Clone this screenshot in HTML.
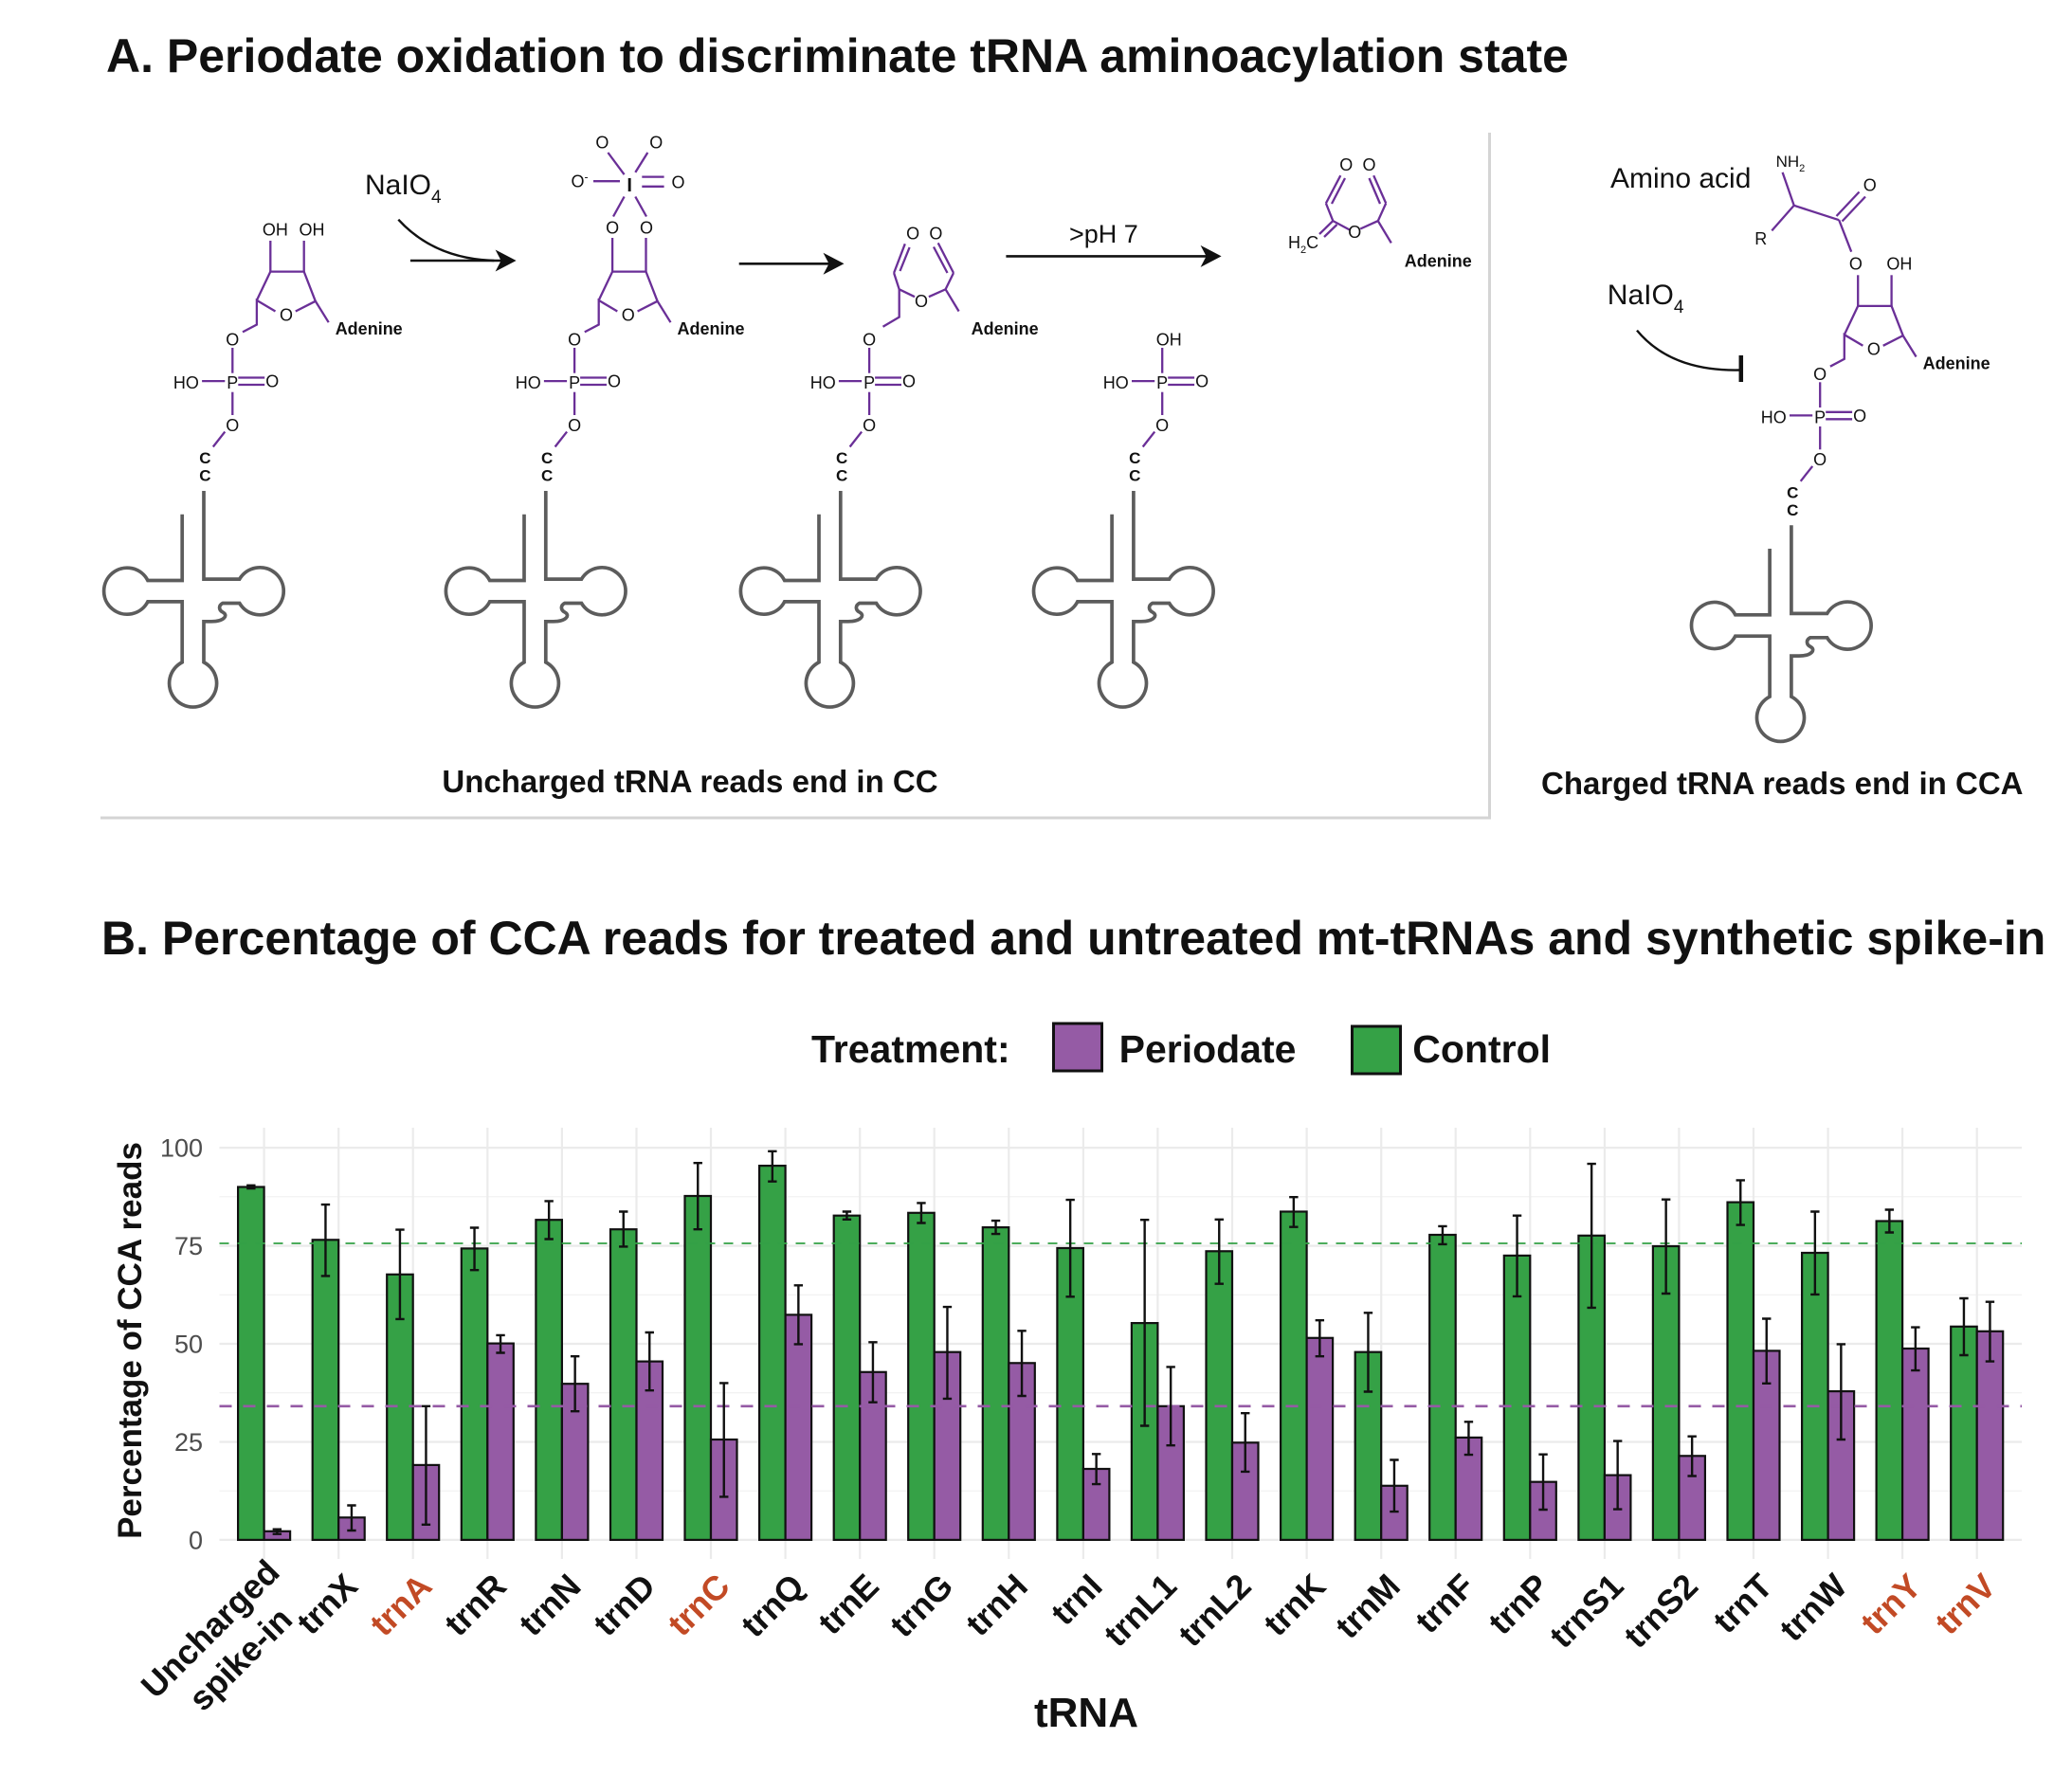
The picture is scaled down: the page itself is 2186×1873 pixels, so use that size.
<!DOCTYPE html>
<html><head><meta charset="utf-8"><style>
html,body{margin:0;padding:0;background:#fff;}
svg{display:block;}
text{font-family:"Liberation Sans",Arial,sans-serif;}
.b{stroke:#6a2f97;stroke-width:2.3;fill:none;}
.a{font-size:18px;fill:#111;text-anchor:middle;}
.ad{font-size:18px;font-weight:bold;fill:#111;}
.cc{font-size:17px;font-weight:bold;fill:#111;text-anchor:middle;}
.tr{stroke:#5c5c5c;stroke-width:3.7;fill:none;}
.gr{fill:#35a146;stroke:#111;stroke-width:2.2;}
.pu{fill:#955ba5;stroke:#111;stroke-width:2.2;}
.eb{stroke:#111;stroke-width:2.4;fill:none;}
.xl{font-size:36px;font-weight:bold;fill:#111;text-anchor:end;}
.xr{font-size:36px;font-weight:bold;fill:#c24a25;text-anchor:end;}
.yt{font-size:27px;fill:#4d4d4d;text-anchor:end;}
.gM{stroke:#ebebeb;stroke-width:2.2;}
.gm{stroke:#f0f0f0;stroke-width:1.2;}
</style></head><body>
<svg width="2186" height="1873" viewBox="0 0 2186 1873" xmlns="http://www.w3.org/2000/svg">
<rect width="2186" height="1873" fill="#fff"/>

<!-- ===== Panel A ===== -->
<text x="112" y="76" font-size="50" font-weight="bold" fill="#111">A. Periodate oxidation to discriminate tRNA aminoacylation state</text>

<line x1="1571.5" y1="140" x2="1571.5" y2="864" stroke="#d4d4d4" stroke-width="3"/>
<line x1="106" y1="863" x2="1573" y2="863" stroke="#d4d4d4" stroke-width="3"/>

<!-- Structure 1 -->
<g id="s1">
<path class="tr" d="M215 518V611.1H252.7A25 25 0 1 1 252.7 636.5H235C230 639 231 644 235 646C241 649 237 655.8 223 655.8H215V698.8A25 25 0 1 1 192.2 698.8V634.9H155.9A24.5 24.5 0 1 1 155.9 612.5H192.2V542.7"/>
<g class="b">
<line x1="237.3" y1="455.6" x2="224.8" y2="471.5"/>
<line x1="245.3" y1="413.7" x2="245.3" y2="438"/>
<line x1="213.1" y1="402.1" x2="237.3" y2="402.1"/>
<line x1="251.3" y1="398.5" x2="279.2" y2="398.5"/>
<line x1="251.3" y1="406" x2="279.2" y2="406"/>
<line x1="245.3" y1="367" x2="245.3" y2="393.7"/>
<polyline points="256,350.4 270.9,342.5 270.9,316.9 290.5,328.5"/>
<polyline points="311.8,328.5 332.8,317.8 346.7,340.2"/>
<polyline points="270.9,316.9 285.3,286.6 320.7,286.6 332.8,317.8"/>
<line x1="285.3" y1="254" x2="285.3" y2="286.6"/>
<line x1="320.7" y1="254" x2="320.7" y2="286.6"/>
</g>
<text class="cc" x="216.4" y="489">C</text>
<text class="cc" x="216.4" y="507.7">C</text>
<text class="a" x="245.3" y="454.8">O</text>
<text class="a" x="245.3" y="410">P</text>
<text class="a" x="196.4" y="410">HO</text>
<text class="a" x="287.2" y="408.5">O</text>
<text class="a" x="245.3" y="364.5">O</text>
<text class="a" x="302" y="338.3">O</text>
<text class="ad" x="353.7" y="353">Adenine</text>
<text x="276.9" y="248.5" font-size="18" fill="#111">OH</text>
<text x="315.5" y="248.5" font-size="18" fill="#111">OH</text>
</g>

<!-- Arrow 1 NaIO4 -->
<text x="385" y="205" font-size="30" fill="#111">NaIO<tspan font-size="19" dy="9">4</tspan></text>
<path d="M420.3 231.7Q458 273 521.3 275" stroke="#111" stroke-width="2.4" fill="none"/>
<line x1="432.9" y1="275" x2="532" y2="275" stroke="#111" stroke-width="2.6"/>
<path d="M544.6 275L522.6 263.5L528.6 275L522.6 286.5Z" fill="#111"/>

<!-- Structure 2 -->
<g transform="translate(360.8,0)">
<path class="tr" d="M215 518V611.1H252.7A25 25 0 1 1 252.7 636.5H235C230 639 231 644 235 646C241 649 237 655.8 223 655.8H215V698.8A25 25 0 1 1 192.2 698.8V634.9H155.9A24.5 24.5 0 1 1 155.9 612.5H192.2V542.7"/>
<g class="b">
<line x1="237.3" y1="455.6" x2="224.8" y2="471.5"/>
<line x1="245.3" y1="413.7" x2="245.3" y2="438"/>
<line x1="213.1" y1="402.1" x2="237.3" y2="402.1"/>
<line x1="251.3" y1="398.5" x2="279.2" y2="398.5"/>
<line x1="251.3" y1="406" x2="279.2" y2="406"/>
<line x1="245.3" y1="367" x2="245.3" y2="393.7"/>
<polyline points="256,350.4 270.9,342.5 270.9,316.9 290.5,328.5"/>
<polyline points="311.8,328.5 332.8,317.8 346.7,340.2"/>
<polyline points="270.9,316.9 285.3,286.6 320.7,286.6 332.8,317.8"/>
<line x1="285.3" y1="251" x2="285.3" y2="286.6"/>
<line x1="320.7" y1="251" x2="320.7" y2="286.6"/>
</g>
<text class="cc" x="216.4" y="489">C</text>
<text class="cc" x="216.4" y="507.7">C</text>
<text class="a" x="245.3" y="454.8">O</text>
<text class="a" x="245.3" y="410">P</text>
<text class="a" x="196.4" y="410">HO</text>
<text class="a" x="287.2" y="408.5">O</text>
<text class="a" x="245.3" y="364.5">O</text>
<text class="a" x="302" y="338.3">O</text>
<text class="ad" x="353.7" y="353">Adenine</text>
</g>
<g class="b">
<line x1="647" y1="228.5" x2="658.6" y2="207.5"/>
<line x1="682" y1="228.5" x2="670.3" y2="207.5"/>
<line x1="641.4" y1="161" x2="658.6" y2="184.2"/>
<line x1="683.3" y1="161" x2="670.3" y2="181.9"/>
<line x1="626" y1="191.2" x2="654" y2="191.2"/>
<line x1="677.3" y1="186.6" x2="700.6" y2="186.6"/>
<line x1="677.3" y1="196.8" x2="700.6" y2="196.8"/>
</g>
<text class="a" x="646.1" y="246.6">O</text>
<text class="a" x="682" y="246.6">O</text>
<text class="a" x="635.4" y="156.7">O</text>
<text class="a" x="692.2" y="156.7">O</text>
<text class="a" x="611.5" y="197.7">O<tspan font-size="12" dy="-7">-</tspan></text>
<text x="664.2" y="202" font-size="20" font-weight="bold" fill="#111" text-anchor="middle">I</text>
<text class="a" x="715.5" y="198.6">O</text>

<!-- Arrow 2 -->
<line x1="779.7" y1="278.3" x2="878" y2="278.3" stroke="#111" stroke-width="2.6"/>
<path d="M890.5 278.3L868.5 266.8L874.5 278.3L868.5 289.8Z" fill="#111"/>

<!-- Structure 3 -->
<g transform="translate(671.8,0)">
<path class="tr" d="M215 518V611.1H252.7A25 25 0 1 1 252.7 636.5H235C230 639 231 644 235 646C241 649 237 655.8 223 655.8H215V698.8A25 25 0 1 1 192.2 698.8V634.9H155.9A24.5 24.5 0 1 1 155.9 612.5H192.2V542.7"/>
<g class="b">
<line x1="237.3" y1="455.6" x2="224.8" y2="471.5"/>
<line x1="245.3" y1="413.7" x2="245.3" y2="438"/>
<line x1="213.1" y1="402.1" x2="237.3" y2="402.1"/>
<line x1="251.3" y1="398.5" x2="279.2" y2="398.5"/>
<line x1="251.3" y1="406" x2="279.2" y2="406"/>
<line x1="245.3" y1="367" x2="245.3" y2="393.7"/>
</g>
<text class="cc" x="216.4" y="489">C</text>
<text class="cc" x="216.4" y="507.7">C</text>
<text class="a" x="245.3" y="454.8">O</text>
<text class="a" x="245.3" y="410">P</text>
<text class="a" x="196.4" y="410">HO</text>
<text class="a" x="287.2" y="408.5">O</text>
<text class="a" x="245.3" y="364.5">O</text>
</g>
<g class="b">
<line x1="954.8" y1="257.3" x2="943.1" y2="288"/>
<line x1="959.6" y1="261" x2="949.5" y2="286"/>
<line x1="989.7" y1="256.4" x2="1006" y2="288"/>
<line x1="985" y1="260.5" x2="999.5" y2="288"/>
<polyline points="943.1,288 948.7,305.3 965,313.2"/>
<polyline points="979.9,313.2 997.6,305.3 1006,288"/>
<line x1="997.6" y1="305.3" x2="1011.6" y2="328.5"/>
<polyline points="931.5,344.8 948.7,334.6 948.7,305.3"/>
</g>
<text class="a" x="963.1" y="252.6">O</text>
<text class="a" x="987.4" y="252.6">O</text>
<text class="a" x="972" y="323.9">O</text>
<text class="ad" x="1024.6" y="353">Adenine</text>

<!-- Arrow 3 -->
<text x="1128" y="256" font-size="27" fill="#111">&gt;pH 7</text>
<line x1="1061.4" y1="270.4" x2="1276" y2="270.4" stroke="#111" stroke-width="2.6"/>
<path d="M1288.6 270.4L1266.6 258.9L1272.6 270.4L1266.6 281.9Z" fill="#111"/>

<!-- Structure 4 -->
<g transform="translate(980.9,0)">
<path class="tr" d="M215 518V611.1H252.7A25 25 0 1 1 252.7 636.5H235C230 639 231 644 235 646C241 649 237 655.8 223 655.8H215V698.8A25 25 0 1 1 192.2 698.8V634.9H155.9A24.5 24.5 0 1 1 155.9 612.5H192.2V542.7"/>
<g class="b">
<line x1="237.3" y1="455.6" x2="224.8" y2="471.5"/>
<line x1="245.3" y1="413.7" x2="245.3" y2="438"/>
<line x1="213.1" y1="402.1" x2="237.3" y2="402.1"/>
<line x1="251.3" y1="398.5" x2="279.2" y2="398.5"/>
<line x1="251.3" y1="406" x2="279.2" y2="406"/>
<line x1="245.3" y1="367" x2="245.3" y2="393.7"/>
</g>
<text class="cc" x="216.4" y="489">C</text>
<text class="cc" x="216.4" y="507.7">C</text>
<text class="a" x="245.3" y="454.8">O</text>
<text class="a" x="245.3" y="410">P</text>
<text class="a" x="196.4" y="410">HO</text>
<text class="a" x="287.2" y="408.5">O</text>
<text x="238.8" y="364.5" font-size="18" fill="#111">OH</text>
</g>

<!-- Product -->
<g class="b">
<line x1="1414.3" y1="185.2" x2="1398.9" y2="214.5"/>
<line x1="1419" y1="188" x2="1405" y2="215"/>
<line x1="1449.2" y1="185.2" x2="1462.2" y2="214.5"/>
<line x1="1444.5" y1="188" x2="1456" y2="215"/>
<polyline points="1398.9,214.5 1406.3,233.1 1423.6,242.4"/>
<polyline points="1435.2,241.5 1453.8,233.1 1462.2,214.5"/>
<line x1="1453.8" y1="233.1" x2="1467.8" y2="256.4"/>
<line x1="1406.3" y1="233.1" x2="1392" y2="247"/>
<line x1="1410.5" y1="237" x2="1397" y2="250"/>
</g>
<text class="a" x="1420.3" y="180">O</text>
<text class="a" x="1444.5" y="180">O</text>
<text class="a" x="1429.2" y="251.2">O</text>
<text x="1359" y="262" font-size="18" fill="#111">H<tspan font-size="11" dy="5">2</tspan><tspan dy="-5">C</tspan></text>
<text class="ad" x="1481.8" y="281.5">Adenine</text>

<!-- Structure 5 (charged) -->
<g transform="translate(1674.9,36.3)">
<path class="tr" d="M215 518V611.1H252.7A25 25 0 1 1 252.7 636.5H235C230 639 231 644 235 646C241 649 237 655.8 223 655.8H215V698.8A25 25 0 1 1 192.2 698.8V634.9H155.9A24.5 24.5 0 1 1 155.9 612.5H192.2V542.7"/>
<g class="b">
<line x1="237.3" y1="455.6" x2="224.8" y2="471.5"/>
<line x1="245.3" y1="413.7" x2="245.3" y2="438"/>
<line x1="213.1" y1="402.1" x2="237.3" y2="402.1"/>
<line x1="251.3" y1="398.5" x2="279.2" y2="398.5"/>
<line x1="251.3" y1="406" x2="279.2" y2="406"/>
<line x1="245.3" y1="367" x2="245.3" y2="393.7"/>
<polyline points="256,350.4 270.9,342.5 270.9,316.9 290.5,328.5"/>
<polyline points="311.8,328.5 332.8,317.8 346.7,340.2"/>
<polyline points="270.9,316.9 285.3,286.6 320.7,286.6 332.8,317.8"/>
<line x1="285.3" y1="254" x2="285.3" y2="286.6"/>
<line x1="320.7" y1="254" x2="320.7" y2="286.6"/>
</g>
<text class="cc" x="216.4" y="489">C</text>
<text class="cc" x="216.4" y="507.7">C</text>
<text class="a" x="245.3" y="454.8">O</text>
<text class="a" x="245.3" y="410">P</text>
<text class="a" x="196.4" y="410">HO</text>
<text class="a" x="287.2" y="408.5">O</text>
<text class="a" x="245.3" y="364.5">O</text>
<text class="a" x="302" y="338.3">O</text>
<text class="ad" x="353.7" y="353">Adenine</text>
<text class="a" x="283" y="248">O</text>
<text x="315.5" y="248" font-size="18" fill="#111">OH</text>
</g>
<g class="b">
<line x1="1953.2" y1="265.7" x2="1940.2" y2="232.2"/>
<line x1="1937.5" y1="228" x2="1961.5" y2="202.5"/>
<line x1="1943.5" y1="233.5" x2="1968" y2="207.5"/>
<polyline points="1869.3,243.4 1892.7,216.8 1940.2,232.2"/>
<line x1="1892.7" y1="216.8" x2="1880.6" y2="181.9"/>
</g>
<text x="1873.6" y="176" font-size="17" fill="#111">NH<tspan font-size="11" dy="5">2</tspan></text>
<text class="a" x="1972.8" y="201.4">O</text>
<text class="a" x="1857.8" y="258">R</text>
<text x="1699" y="198" font-size="30" fill="#111">Amino acid</text>
<text x="1695.8" y="321" font-size="30" fill="#111">NaIO<tspan font-size="19" dy="9">4</tspan></text>
<path d="M1727 348.6Q1763 392 1835.4 390.5" stroke="#111" stroke-width="2.4" fill="none"/>
<line x1="1836.8" y1="375" x2="1836.8" y2="403" stroke="#111" stroke-width="4.5"/>

<text x="466.4" y="836" font-size="33" font-weight="bold" fill="#111">Uncharged tRNA reads end in CC</text>
<text x="1626" y="838" font-size="33" font-weight="bold" fill="#111">Charged tRNA reads end in CCA</text>

<!-- ===== Panel B ===== -->
<text x="107" y="1007" font-size="50" font-weight="bold" fill="#111">B. Percentage of CCA reads for treated and untreated mt-tRNAs and synthetic spike-in</text>

<!-- Legend -->
<text x="856" y="1121" font-size="41" font-weight="bold" fill="#111">Treatment:</text>
<rect x="1111.5" y="1080" width="51" height="50" fill="#955ba5" stroke="#111" stroke-width="3"/>
<text x="1180.6" y="1121" font-size="41" font-weight="bold" fill="#111">Periodate</text>
<rect x="1426.5" y="1083" width="51" height="50" fill="#35a146" stroke="#111" stroke-width="3"/>
<text x="1490.3" y="1121" font-size="41" font-weight="bold" fill="#111">Control</text>

<!-- Grid -->
<g class="gm">
<line x1="231.5" y1="1573.2" x2="2133" y2="1573.2"/>
<line x1="231.5" y1="1469.7" x2="2133" y2="1469.7"/>
<line x1="231.5" y1="1366.3" x2="2133" y2="1366.3"/>
<line x1="231.5" y1="1262.8" x2="2133" y2="1262.8"/>
</g>
<g class="gM">
<line x1="231.5" y1="1624.9" x2="2133" y2="1624.9"/>
<line x1="231.5" y1="1521.5" x2="2133" y2="1521.5"/>
<line x1="231.5" y1="1418" x2="2133" y2="1418"/>
<line x1="231.5" y1="1314.6" x2="2133" y2="1314.6"/>
<line x1="231.5" y1="1211.1" x2="2133" y2="1211.1"/>
<path d="M278.6 1190V1645M357.2 1190V1645M435.7 1190V1645M514.3 1190V1645M592.9 1190V1645M671.5 1190V1645M750 1190V1645M828.6 1190V1645M907.2 1190V1645M985.7 1190V1645M1064.3 1190V1645M1142.9 1190V1645M1221.4 1190V1645M1300 1190V1645M1378.6 1190V1645M1457.2 1190V1645M1535.7 1190V1645M1614.3 1190V1645M1692.9 1190V1645M1771.4 1190V1645M1850 1190V1645M1928.6 1190V1645M2007.1 1190V1645M2085.7 1190V1645"/>
</g>

<!-- Y ticks -->
<text class="yt" x="214" y="1220.6">100</text>
<text class="yt" x="214" y="1324.1">75</text>
<text class="yt" x="214" y="1427.5">50</text>
<text class="yt" x="214" y="1531">25</text>
<text class="yt" x="214" y="1634.4">0</text>
<text transform="rotate(-90 149 1414.5)" x="149" y="1414.5" font-size="35" font-weight="bold" fill="#111" text-anchor="middle">Percentage of CCA reads</text>

<!-- Bars -->
<g>
<rect class="gr" x="251.1" y="1252.5" width="27.5" height="372.4"/><rect class="pu" x="278.6" y="1615.8" width="27.5" height="9.1"/>
<rect class="gr" x="329.7" y="1308.3" width="27.5" height="316.6"/><rect class="pu" x="357.2" y="1601.3" width="27.5" height="23.6"/>
<rect class="gr" x="408.2" y="1344.8" width="27.5" height="280.1"/><rect class="pu" x="435.7" y="1545.9" width="27.5" height="79"/>
<rect class="gr" x="486.8" y="1317.4" width="27.5" height="307.5"/><rect class="pu" x="514.3" y="1417.6" width="27.5" height="207.3"/>
<rect class="gr" x="565.4" y="1287.2" width="27.5" height="337.7"/><rect class="pu" x="592.9" y="1460.2" width="27.5" height="164.7"/>
<rect class="gr" x="644" y="1297.2" width="27.5" height="327.7"/><rect class="pu" x="671.5" y="1436.6" width="27.5" height="188.3"/>
<rect class="gr" x="722.5" y="1262" width="27.5" height="362.9"/><rect class="pu" x="750" y="1519" width="27.5" height="105.9"/>
<rect class="gr" x="801.1" y="1230.1" width="27.5" height="394.8"/><rect class="pu" x="828.6" y="1387.4" width="27.5" height="237.5"/>
<rect class="gr" x="879.7" y="1282.7" width="27.5" height="342.2"/><rect class="pu" x="907.2" y="1447.8" width="27.5" height="177.1"/>
<rect class="gr" x="958.2" y="1279.8" width="27.5" height="345.1"/><rect class="pu" x="985.7" y="1426.7" width="27.5" height="198.2"/>
<rect class="gr" x="1036.8" y="1295.1" width="27.5" height="329.8"/><rect class="pu" x="1064.3" y="1438.3" width="27.5" height="186.6"/>
<rect class="gr" x="1115.4" y="1317" width="27.5" height="307.9"/><rect class="pu" x="1142.9" y="1550" width="27.5" height="74.9"/>
<rect class="gr" x="1193.9" y="1396.1" width="27.5" height="228.8"/><rect class="pu" x="1221.4" y="1483.8" width="27.5" height="141.1"/>
<rect class="gr" x="1272.5" y="1320.3" width="27.5" height="304.6"/><rect class="pu" x="1300" y="1522.3" width="27.5" height="102.6"/>
<rect class="gr" x="1351.1" y="1278.5" width="27.5" height="346.4"/><rect class="pu" x="1378.6" y="1411.8" width="27.5" height="213.1"/>
<rect class="gr" x="1429.7" y="1426.7" width="27.5" height="198.2"/><rect class="pu" x="1457.2" y="1567.8" width="27.5" height="57.1"/>
<rect class="gr" x="1508.2" y="1303" width="27.5" height="321.9"/><rect class="pu" x="1535.7" y="1516.9" width="27.5" height="108"/>
<rect class="gr" x="1586.8" y="1324.9" width="27.5" height="300"/><rect class="pu" x="1614.3" y="1563.7" width="27.5" height="61.2"/>
<rect class="gr" x="1665.4" y="1303.8" width="27.5" height="321.1"/><rect class="pu" x="1692.9" y="1556.6" width="27.5" height="68.3"/>
<rect class="gr" x="1743.9" y="1315" width="27.5" height="309.9"/><rect class="pu" x="1771.4" y="1536.3" width="27.5" height="88.6"/>
<rect class="gr" x="1822.5" y="1268.6" width="27.5" height="356.3"/><rect class="pu" x="1850" y="1425.4" width="27.5" height="199.5"/>
<rect class="gr" x="1901.1" y="1322" width="27.5" height="302.9"/><rect class="pu" x="1928.6" y="1468.1" width="27.5" height="156.8"/>
<rect class="gr" x="1979.6" y="1288.5" width="27.5" height="336.4"/><rect class="pu" x="2007.1" y="1423" width="27.5" height="201.9"/>
<rect class="gr" x="2058.2" y="1399.8" width="27.5" height="225.1"/><rect class="pu" x="2085.7" y="1404.8" width="27.5" height="220.1"/>
</g>

<!-- Reference dashed lines -->
<line x1="231.5" y1="1312" x2="2133" y2="1312" stroke="#33a046" stroke-width="1.7" stroke-dasharray="10 9"/>
<line x1="231.5" y1="1483.8" x2="2133" y2="1483.8" stroke="#955aa5" stroke-width="2.7" stroke-dasharray="13 12"/>

<!-- Error bars -->
<path class="eb" d="
M264.85 1254.1V1250.8M260.15 1254.1h9.4M260.15 1250.8h9.4
M292.35 1618.7V1613.7M287.65 1618.7h9.4M287.65 1613.7h9.4
M343.45 1346.4V1271.1M338.75 1346.4h9.4M338.75 1271.1h9.4
M370.95 1615V1588.5M366.25 1615h9.4M366.25 1588.5h9.4
M421.95 1391.9V1297.6M417.25 1391.9h9.4M417.25 1297.6h9.4
M449.45 1608.8V1483.8M444.75 1608.8h9.4M444.75 1483.8h9.4
M500.55 1340.2V1295.5M495.85 1340.2h9.4M495.85 1295.5h9.4
M528.05 1427.5V1408.9M523.35 1427.5h9.4M523.35 1408.9h9.4
M579.15 1307.5V1267.4M574.45 1307.5h9.4M574.45 1267.4h9.4
M606.65 1489.2V1431.2M601.95 1489.2h9.4M601.95 1431.2h9.4
M657.75 1315.4V1278.5M653.05 1315.4h9.4M653.05 1278.5h9.4
M685.25 1467.2V1406M680.55 1467.2h9.4M680.55 1406h9.4
M736.25 1297.2V1227.2M731.55 1297.2h9.4M731.55 1227.2h9.4
M763.75 1579.4V1459.4M759.05 1579.4h9.4M759.05 1459.4h9.4
M814.85 1246.7V1214.8M810.15 1246.7h9.4M810.15 1214.8h9.4
M842.35 1418.4V1356.3M837.65 1418.4h9.4M837.65 1356.3h9.4
M893.45 1286.8V1278.5M888.75 1286.8h9.4M888.75 1278.5h9.4
M920.95 1479.7V1416.3M916.25 1479.7h9.4M916.25 1416.3h9.4
M971.95 1290.5V1269.4M967.25 1290.5h9.4M967.25 1269.4h9.4
M999.45 1475.9V1379.1M994.75 1475.9h9.4M994.75 1379.1h9.4
M1050.55 1302.1V1288.1M1045.85 1302.1h9.4M1045.85 1288.1h9.4
M1078.05 1473V1404.3M1073.35 1473h9.4M1073.35 1404.3h9.4
M1129.15 1368.3V1266.1M1124.45 1368.3h9.4M1124.45 1266.1h9.4
M1156.65 1566.1V1534.3M1151.95 1566.1h9.4M1151.95 1534.3h9.4
M1207.65 1504.5V1287.2M1202.95 1504.5h9.4M1202.95 1287.2h9.4
M1235.15 1525.2V1442.4M1230.45 1525.2h9.4M1230.45 1442.4h9.4
M1286.25 1354.7V1286.8M1281.55 1354.7h9.4M1281.55 1286.8h9.4
M1313.75 1552.9V1491.2M1309.05 1552.9h9.4M1309.05 1491.2h9.4
M1364.85 1294.7V1263.2M1360.15 1294.7h9.4M1360.15 1263.2h9.4
M1392.35 1431.2V1393.2M1387.65 1431.2h9.4M1387.65 1393.2h9.4
M1443.45 1468.5V1385.3M1438.75 1468.5h9.4M1438.75 1385.3h9.4
M1470.95 1595.1V1540.5M1466.25 1595.1h9.4M1466.25 1540.5h9.4
M1521.95 1312.9V1293.9M1517.25 1312.9h9.4M1517.25 1293.9h9.4
M1549.45 1535.1V1500.3M1544.75 1535.1h9.4M1544.75 1500.3h9.4
M1600.55 1367.9V1282.7M1595.85 1367.9h9.4M1595.85 1282.7h9.4
M1628.05 1593V1534.7M1623.35 1593h9.4M1623.35 1534.7h9.4
M1679.15 1379.9V1228.1M1674.45 1379.9h9.4M1674.45 1228.1h9.4
M1706.65 1592.6V1520.6M1701.95 1592.6h9.4M1701.95 1520.6h9.4
M1757.65 1365V1265.7M1752.95 1365h9.4M1752.95 1265.7h9.4
M1785.15 1557.5V1515.7M1780.45 1557.5h9.4M1780.45 1515.7h9.4
M1836.25 1292.6V1245.4M1831.55 1292.6h9.4M1831.55 1245.4h9.4
M1863.75 1459.8V1391.5M1859.05 1459.8h9.4M1859.05 1391.5h9.4
M1914.85 1365.9V1278.5M1910.15 1365.9h9.4M1910.15 1278.5h9.4
M1942.35 1519V1418.4M1937.65 1519h9.4M1937.65 1418.4h9.4
M1993.35 1300.5V1276.5M1988.65 1300.5h9.4M1988.65 1276.5h9.4
M2020.85 1446.1V1400.6M2016.15 1446.1h9.4M2016.15 1400.6h9.4
M2071.95 1430V1370M2067.25 1430h9.4M2067.25 1370h9.4
M2099.45 1436.6V1373.7M2094.75 1436.6h9.4M2094.75 1373.7h9.4"/>

<!-- X labels -->
<text class="xl" style="text-anchor:middle" x="230.5" y="1727.5" transform="rotate(-45 230.5 1727.5)">Uncharged</text>
<text class="xl" style="text-anchor:middle" x="262.3" y="1759.3" transform="rotate(-45 262.3 1759.3)">spike-in</text>
<text class="xl" x="379.2" y="1676" transform="rotate(-45 379.2 1676)">trnX</text>
<text class="xr" x="457.7" y="1676" transform="rotate(-45 457.7 1676)">trnA</text>
<text class="xl" x="536.3" y="1676" transform="rotate(-45 536.3 1676)">trnR</text>
<text class="xl" x="614.9" y="1676" transform="rotate(-45 614.9 1676)">trnN</text>
<text class="xl" x="693.5" y="1676" transform="rotate(-45 693.5 1676)">trnD</text>
<text class="xr" x="772" y="1676" transform="rotate(-45 772 1676)">trnC</text>
<text class="xl" x="850.6" y="1676" transform="rotate(-45 850.6 1676)">trnQ</text>
<text class="xl" x="929.2" y="1676" transform="rotate(-45 929.2 1676)">trnE</text>
<text class="xl" x="1007.7" y="1676" transform="rotate(-45 1007.7 1676)">trnG</text>
<text class="xl" x="1086.3" y="1676" transform="rotate(-45 1086.3 1676)">trnH</text>
<text class="xl" x="1164.9" y="1676" transform="rotate(-45 1164.9 1676)">trnI</text>
<text class="xl" x="1243.4" y="1676" transform="rotate(-45 1243.4 1676)">trnL1</text>
<text class="xl" x="1322" y="1676" transform="rotate(-45 1322 1676)">trnL2</text>
<text class="xl" x="1400.6" y="1676" transform="rotate(-45 1400.6 1676)">trnK</text>
<text class="xl" x="1479.2" y="1676" transform="rotate(-45 1479.2 1676)">trnM</text>
<text class="xl" x="1557.7" y="1676" transform="rotate(-45 1557.7 1676)">trnF</text>
<text class="xl" x="1636.3" y="1676" transform="rotate(-45 1636.3 1676)">trnP</text>
<text class="xl" x="1714.9" y="1676" transform="rotate(-45 1714.9 1676)">trnS1</text>
<text class="xl" x="1793.4" y="1676" transform="rotate(-45 1793.4 1676)">trnS2</text>
<text class="xl" x="1872" y="1676" transform="rotate(-45 1872 1676)">trnT</text>
<text class="xl" x="1950.6" y="1676" transform="rotate(-45 1950.6 1676)">trnW</text>
<text class="xr" x="2029.1" y="1676" transform="rotate(-45 2029.1 1676)">trnY</text>
<text class="xr" x="2107.7" y="1676" transform="rotate(-45 2107.7 1676)">trnV</text>

<text x="1146" y="1822" font-size="44" font-weight="bold" fill="#111" text-anchor="middle">tRNA</text>
</svg>
</body></html>
